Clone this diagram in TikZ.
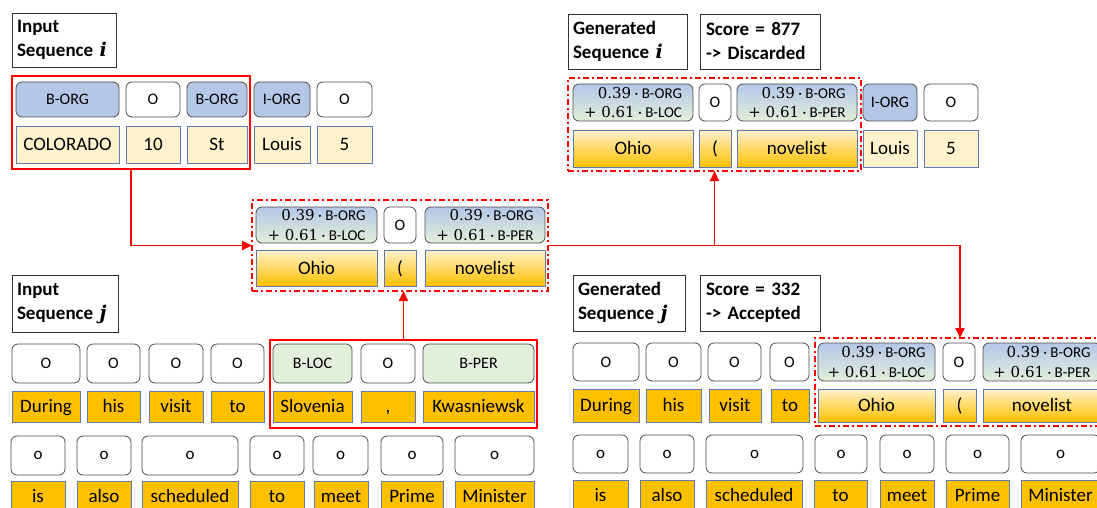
\documentclass[tikz,border=0pt]{standalone}
\usepackage{fontspec}
\setmainfont{Carlito}
\newfontfamily\numf{DejaVu Serif}
\usetikzlibrary{arrows.meta}
\definecolor{cblue}{HTML}{B4C7E7}
\definecolor{cgreen}{HTML}{E2EFDA}
\definecolor{cyel}{HTML}{FFF2CC}
\definecolor{corange}{HTML}{FFC000}
\definecolor{cwb}{HTML}{5B7BB2}
\definecolor{cred}{HTML}{FF0000}
\newcommand\mybox[7]{\node[#2,minimum width={(#5-#3)*1pt},minimum height={(#6-#4)*1pt}] (#1) at ({(#3+#5)/2},{(#4+#6)/2}) {#7};}
\newcommand\mixt[1]{{\numf 0.39} · B-ORG\\{\numf + 0.61} · B-#1}
\tikzset{
  base/.style={inner sep=0pt, outer sep=0pt},
  titlebox/.style={base, draw=black!80, line width=0.8pt, fill=white, align=left, inner xsep=5pt, font=\fontsize{19}{24}\selectfont\bfseries},
  lab/.style={base, draw=black!70, line width=0.8pt, rounded corners=6pt, font=\fontsize{16}{19}\selectfont, text height=12pt, text depth=1.7pt},
  wlab/.style={lab, fill=white},
  blab/.style={lab, fill=cblue},
  glab/.style={lab, fill=cgreen},
  olab/.style={lab, fill=white, font=\fontsize{17}{20}\selectfont, text height=10pt, text depth=2pt},
  mlab/.style={base, draw=black!70, line width=0.8pt, rounded corners=6pt, top color=cblue, bottom color=cgreen, align=right, font=\fontsize{15}{19.5}\selectfont},
  wd/.style={base, draw=cwb, line width=0.8pt, font=\fontsize{19}{23}\selectfont, text height=14pt, text depth=2pt},
  ywd/.style={wd, fill=cyel},
  owd/.style={wd, fill=corange},
  gwd/.style={wd, top color=cyel, bottom color=corange},
  redframe/.style={base, draw=cred, line width=1.9pt},
  dashframe/.style={base, draw=cred, line width=1.9pt, dash pattern=on 6pt off 3pt on 2pt off 3pt},
  arr/.style={draw=cred, line width=1.9pt, -{Triangle[length=10pt,width=9pt]}}
}
\begin{document}
\begin{tikzpicture}[x=1pt,y=-1pt]
\useasboundingbox (0,0) rectangle (1097,508);
% frames
\mybox{redA}{redframe}{12}{76}{250}{169}{}
\mybox{dashM}{dashframe}{252}{200}{548}{291}{}
\mybox{dashTR}{dashframe}{568}{78}{861}{171}{}
\mybox{redB}{redframe}{270}{340}{537}{428}{}
\mybox{dashBR}{dashframe}{815}{338}{1105}{426}{}
% connectors
\draw[arr] (redA.south) |- (dashM.west);
\draw[arr] (redB.north) -- (redB.north |- dashM.south);
\draw[arr] (dashM.east) -| (dashBR.north);
\draw[arr] (dashTR.south |- dashM.east) -- (dashTR.south);
% ---- top left
\mybox{tI}{titlebox, text width=94pt}{12}{13}{116}{67}{Input\\Sequence {\numf\bfseries\itshape i}}
\mybox{a1}{blab}{16}{82}{119}{117}{B-ORG}
\mybox{a2}{wlab}{126}{82}{180}{117}{O}
\mybox{a3}{blab}{187}{82}{247}{117}{B-ORG}
\mybox{a4}{blab}{254}{82}{310}{117}{I-ORG}
\mybox{a5}{wlab}{317}{82}{372}{117}{O}
\mybox{aw1}{ywd}{16}{126}{119}{163}{COLORADO}
\mybox{aw2}{ywd}{126}{126}{180}{163}{10}
\mybox{aw3}{ywd}{187}{126}{247}{163}{St}
\mybox{aw4}{ywd}{254}{126}{310}{163}{Louis}
\mybox{aw5}{ywd}{317}{126}{372}{163}{5}
% ---- middle
\mybox{m1}{mlab}{256}{207}{377}{243}{\mixt{LOC}}
\mybox{m2}{wlab}{384}{207}{416}{243}{O}
\mybox{m3}{mlab}{425}{207}{545}{243}{\mixt{PER}}
\mybox{mw1}{gwd}{256}{250}{377}{286}{Ohio}
\mybox{mw2}{gwd}{384}{250}{416}{286}{(}
\mybox{mw3}{gwd}{425}{250}{545}{286}{novelist}
% ---- top right
\mybox{tGi}{titlebox, text width=109pt}{568}{14}{687}{69}{Generated\\Sequence {\numf\bfseries\itshape i}}
\mybox{sI}{titlebox, text width=108pt, inner xsep=6pt}{700}{14}{820}{69}{Score = 877\\-> Discarded}
\mybox{c1}{mlab}{573}{84}{693}{121}{\mixt{LOC}}
\mybox{c2}{wlab}{699}{84}{731}{121}{O}
\mybox{c3}{mlab}{737}{84}{857}{121}{\mixt{PER}}
\mybox{c4}{blab}{863}{84}{917}{121}{I-ORG}
\mybox{c5}{wlab}{924}{84}{978}{121}{O}
\mybox{cw1}{gwd}{573}{130}{693}{167}{Ohio}
\mybox{cw2}{gwd}{699}{130}{731}{167}{(}
\mybox{cw3}{gwd}{737}{130}{857}{167}{novelist}
\mybox{cw4}{ywd}{863}{130}{917}{167}{Louis}
\mybox{cw5}{ywd}{924}{130}{978}{167}{5}
% ---- bottom left
\mybox{tJ}{titlebox, text width=96pt}{12}{275}{118}{332}{Input\\Sequence {\numf\bfseries\itshape j}}
\mybox{b1}{wlab}{12}{344}{80}{383}{O}
\mybox{b2}{wlab}{87}{344}{140}{383}{O}
\mybox{b3}{wlab}{149}{344}{203}{383}{O}
\mybox{b4}{wlab}{211}{344}{264}{383}{O}
\mybox{b5}{glab}{273}{344}{352}{383}{B-LOC}
\mybox{b6}{wlab}{361}{344}{415}{383}{O}
\mybox{b7}{glab}{423}{344}{534}{383}{B-PER}
\mybox{bw1}{owd}{12}{391}{80}{422}{During}
\mybox{bw2}{owd}{87}{391}{140}{422}{his}
\mybox{bw3}{owd}{149}{391}{203}{422}{visit}
\mybox{bw4}{owd}{211}{391}{264}{422}{to}
\mybox{bw5}{owd}{273}{391}{352}{422}{Slovenia}
\mybox{bw6}{owd}{361}{391}{415}{422}{,}
\mybox{bw7}{owd}{423}{391}{534}{422}{Kwasniewsk}
\mybox{d1}{olab}{11}{436}{65}{475}{o}
\mybox{d2}{olab}{77}{436}{131}{475}{o}
\mybox{d3}{olab}{142}{436}{238}{475}{o}
\mybox{d4}{olab}{250}{436}{304}{475}{o}
\mybox{d5}{olab}{313}{436}{368}{475}{o}
\mybox{d6}{olab}{381}{436}{443}{475}{o}
\mybox{d7}{olab}{455}{436}{534}{475}{o}
\mybox{dw1}{owd}{11}{481}{65}{511}{is}
\mybox{dw2}{owd}{77}{481}{131}{511}{also}
\mybox{dw3}{owd}{142}{481}{238}{511}{scheduled}
\mybox{dw4}{owd}{250}{481}{304}{511}{to}
\mybox{dw5}{owd}{314}{481}{368}{511}{meet}
\mybox{dw6}{owd}{381}{481}{443}{511}{Prime}
\mybox{dw7}{owd}{455}{481}{534}{511}{Minister}
% ---- bottom right
\mybox{tGj}{titlebox, text width=102pt}{573}{275}{685}{331}{Generated\\Sequence {\numf\bfseries\itshape j}}
\mybox{sJ}{titlebox, text width=108pt, inner xsep=6pt}{700}{275}{820}{331}{Score = 332\\-> Accepted}
\mybox{e1}{wlab}{573}{343}{639}{381}{O}
\mybox{e2}{wlab}{646}{343}{701}{381}{O}
\mybox{e3}{wlab}{708}{343}{761}{381}{O}
\mybox{e4}{wlab}{770}{343}{809}{381}{O}
\mybox{e5}{mlab}{818}{343}{935}{381}{\mixt{LOC}}
\mybox{e6}{wlab}{943}{343}{975}{381}{O}
\mybox{e7}{mlab}{983}{343}{1101}{381}{\mixt{PER}}
\mybox{ew1}{owd}{573}{389}{639}{422}{During}
\mybox{ew2}{owd}{646}{389}{701}{422}{his}
\mybox{ew3}{owd}{709}{389}{761}{422}{visit}
\mybox{ew4}{owd}{771}{389}{809}{422}{to}
\mybox{ew5}{gwd}{818}{389}{935}{422}{Ohio}
\mybox{ew6}{gwd}{943}{389}{976}{422}{(}
\mybox{ew7}{gwd}{983}{389}{1101}{422}{novelist}
\mybox{f1}{olab}{573}{435}{628}{473}{o}
\mybox{f2}{olab}{640}{435}{694}{473}{o}
\mybox{f3}{olab}{706}{435}{803}{473}{o}
\mybox{f4}{olab}{815}{435}{867}{473}{o}
\mybox{f5}{olab}{880}{435}{934}{473}{o}
\mybox{f6}{olab}{946}{435}{1009}{473}{o}
\mybox{f7}{olab}{1021}{435}{1100}{473}{o}
\mybox{fw1}{owd}{573}{480}{628}{510}{is}
\mybox{fw2}{owd}{640}{480}{694}{510}{also}
\mybox{fw3}{owd}{706}{480}{802}{510}{scheduled}
\mybox{fw4}{owd}{814}{480}{867}{510}{to}
\mybox{fw5}{owd}{880}{480}{934}{510}{meet}
\mybox{fw6}{owd}{946}{480}{1009}{510}{Prime}
\mybox{fw7}{owd}{1021}{480}{1100}{510}{Minister}
\end{tikzpicture}
\end{document}
